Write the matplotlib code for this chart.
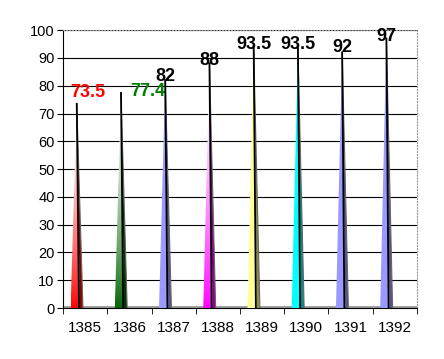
import matplotlib
matplotlib.use("Agg")
import matplotlib.pyplot as plt
import numpy as np
from matplotlib.patches import Polygon
from matplotlib.colors import to_rgb

plt.rcParams["font.family"] = ["Liberation Sans", "DejaVu Sans"]

# ── data ───────────────────────────────────────────────
years = ["1385", "1386", "1387", "1388", "1389", "1390", "1391", "1392"]
values = [73.5, 77.4, 82, 88, 93.5, 93.5, 92, 97]
labels = ["73.5", "77.4", "82", "88", "93.5", "93.5", "92", "97"]
label_colors = ["#FF0000", "#008000", "black", "black", "black", "black", "black", "black"]
cone_colors = ["#FF0000", "#006400", "#9999FF", "#FF00FF", "#FFFF99", "#00FFFF", "#9999FF", "#9999FF"]
gradient = [True, True, False, True, False, False, False, False]
y_ticks = [0, 10, 20, 30, 40, 50, 60, 70, 80, 90, 100]

# layout: cone shift (3D depth) and label nudges
OFFSET = -0.19
HALF_W = 0.14
label_dx = [0.25, 0.6, 0, 0, 0, 0, 0, 0]
label_dy = [4, 0.6, 1.2, 1.2, 1.5, 1.5, 1.7, 0.6]


def shade(c, f):
    r, g, b = to_rgb(c)
    return (r * f, g * f, b * f)


fig = plt.figure(figsize=(4.44, 3.59), dpi=100)
ax = fig.add_axes([0.142, 0.142, 0.797, 0.774])

for i, (v, col, grad) in enumerate(zip(values, cone_colors, gradient)):
    c = i + OFFSET
    split = c + HALF_W * 0.5
    left = Polygon([(c - HALF_W, 0), (c, v), (split, 0)], closed=True,
                   facecolor="none" if grad else col, edgecolor="none", zorder=3)
    ax.add_patch(left)
    if grad:
        rgb = np.array(to_rgb(col))
        t = np.linspace(0, 1, 200)[:, None]
        fade = np.clip(t / 0.85, 0, 1) ** 0.8
        img = rgb[None, :] * (1 - fade) + np.ones(3)[None, :] * fade
        img = np.repeat(img[:, None, :], 2, axis=1)
        im = ax.imshow(img, extent=[c - HALF_W, split, 0, v], origin="lower",
                       aspect="auto", zorder=3)
        im.set_clip_path(left)
    right = Polygon([(split, 0), (c, v), (c + HALF_W, 0)], closed=True,
                    facecolor=shade(col, 0.55), edgecolor="none", zorder=3)
    ax.add_patch(right)
    ax.plot([c, c + HALF_W], [v, 0], color="#666666", lw=0.8, zorder=4)
    ax.plot([c, split - 0.02], [v, 0], color="black", lw=1.3, zorder=6)
    ax.text(c + label_dx[i], v + label_dy[i], labels[i], ha="center", va="center",
            fontsize=13, fontweight="bold", color=label_colors[i], zorder=5)

ax.set_xlim(-0.5, len(years) - 0.5)
ax.set_ylim(0, 100)
ax.set_yticks(y_ticks)
ax.set_yticklabels([str(t) for t in y_ticks], fontsize=10.5)
ax.yaxis.grid(True, color="black", lw=0.8)
ax.set_axisbelow(True)

ax.set_xticks(range(len(years)))
ax.set_xticklabels(years, fontsize=11)
ax.tick_params(axis="x", length=0, pad=9)
ax.set_xticks(np.arange(-0.5, len(years)), minor=True)
ax.tick_params(axis="x", which="minor", length=4, direction="out", color="black")
ax.tick_params(axis="y", length=4, direction="out", pad=2)

for s in ["top", "right"]:
    ax.spines[s].set_color("#999999")
    ax.spines[s].set_linestyle(":")
ax.spines["left"].set_color("black")
ax.spines["bottom"].set_color("black")
ax.axhline(0.4, color="#999999", lw=2, zorder=2)

fig.savefig("out.png", dpi=100)
